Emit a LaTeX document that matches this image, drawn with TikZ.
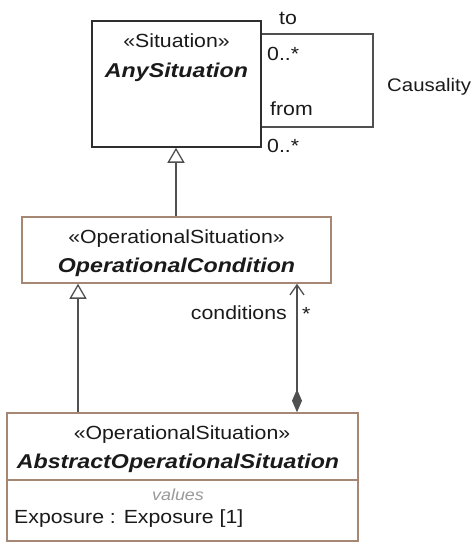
\documentclass[tikz,border=0pt]{standalone}
\usepackage{fontspec}
\setmainfont{Liberation Sans}[FakeStretch=1.12]
\newfontfamily\namefont{Liberation Sans}[FakeStretch=1.16]
\usetikzlibrary{arrows.meta}

\definecolor{inkdark}{HTML}{1A1A1A}
\definecolor{boxdark}{HTML}{2E2E2E}
\definecolor{boxbrown}{HTML}{A58773}
\definecolor{linegray}{HTML}{505050}
\definecolor{compgray}{HTML}{9A9A9A}

\tikzset{
  umlbox/.style={rectangle, line width=1.5pt, fill=white, inner sep=0pt},
  txt/.style={inner sep=0pt, text=inkdark, font=\fontsize{19}{22}\selectfont},
  stereo/.style={txt, anchor=base},
  clsname/.style={inner sep=0pt, anchor=base, text=inkdark,
    font=\namefont\fontsize{20}{24}\selectfont\bfseries\itshape},
  compartment/.style={inner sep=0pt, anchor=base, text=compgray,
    font=\fontsize{16}{19}\selectfont\itshape},
  conn/.style={draw=linegray, line width=1.3pt},
  gen/.style={conn, -{Triangle[length=15pt,width=17pt,fill=white,line width=1.3pt]}},
  comp/.style={conn, {Diamond[length=23pt,width=10pt,fill=linegray]}-{Straight Barb[length=10pt,width=14pt,line width=1.3pt]}},
}

\begin{document}
\begin{tikzpicture}[x=1pt,y=-1pt]
\useasboundingbox (0,0) rectangle (474,542);

% class boxes
\node[umlbox, draw=boxdark, minimum width=169pt, minimum height=126pt] (any) at (176.5,84) {};
\node[umlbox, draw=boxbrown, minimum width=309pt, minimum height=66pt] (oc) at (176.5,250) {};
\node[umlbox, draw=boxbrown, minimum width=351pt, minimum height=128pt] (aos) at (182.5,477) {};

% class headers
\node[stereo] (anyst) at (176.5,47) {«Situation»};
\node[clsname] (anynm) at (176.5,77) {AnySituation};
\node[stereo] (ocst) at (176.5,243) {«OperationalSituation»};
\node[clsname] (ocnm) at (176.5,272) {OperationalCondition};
\node[stereo] (aosst) at (182,439) {«OperationalSituation»};
\node[clsname] (aosnm) at (178,468) {AbstractOperationalSituation};

% values compartment
\coordinate (dv) at (0,480);
\draw[draw=boxbrown, line width=1.5pt] (aos.west |- dv) -- (aos.east |- dv);
\node[compartment] (vals) at (178,500) {values};
\node[txt, anchor=base west] (expo) at (14,523) {Exposure : Exposure [1]};

% Causality self association
\coordinate (lt) at (373,34);
\coordinate (lb) at (373,127);
\draw[conn] (any.east |- lt) -- (lt) -- (lb) -- (any.east |- lb);
\node[txt, anchor=base] (lto) at (288,24) {to};
\node[txt, anchor=base west] (ltom) at (267,60) {0..*};
\node[txt, anchor=base west] (lfrom) at (270,115) {from};
\node[txt, anchor=base west] (lfromm) at (267,152) {0..*};
\node[txt, anchor=base west, font=\fontsize{18.2}{22}\selectfont] (lcaus) at (387,91) {Causality};

% generalizations
\coordinate (gtop) at (176,0);
\coordinate (gx) at (78,0);
\draw[gen] (oc.north -| gtop) -- (any.south -| gtop);
\draw[gen] (aos.north -| gx) -- (oc.south -| gx);

% composition
\coordinate (cx) at (297,0);
\draw[comp] (aos.north -| cx) -- (oc.south -| cx);
\node[txt, anchor=base east] (lcond) at (287,319) {conditions};
\node[txt, anchor=base west] (lmult) at (302,320) {*};
\end{tikzpicture}
\end{document}
